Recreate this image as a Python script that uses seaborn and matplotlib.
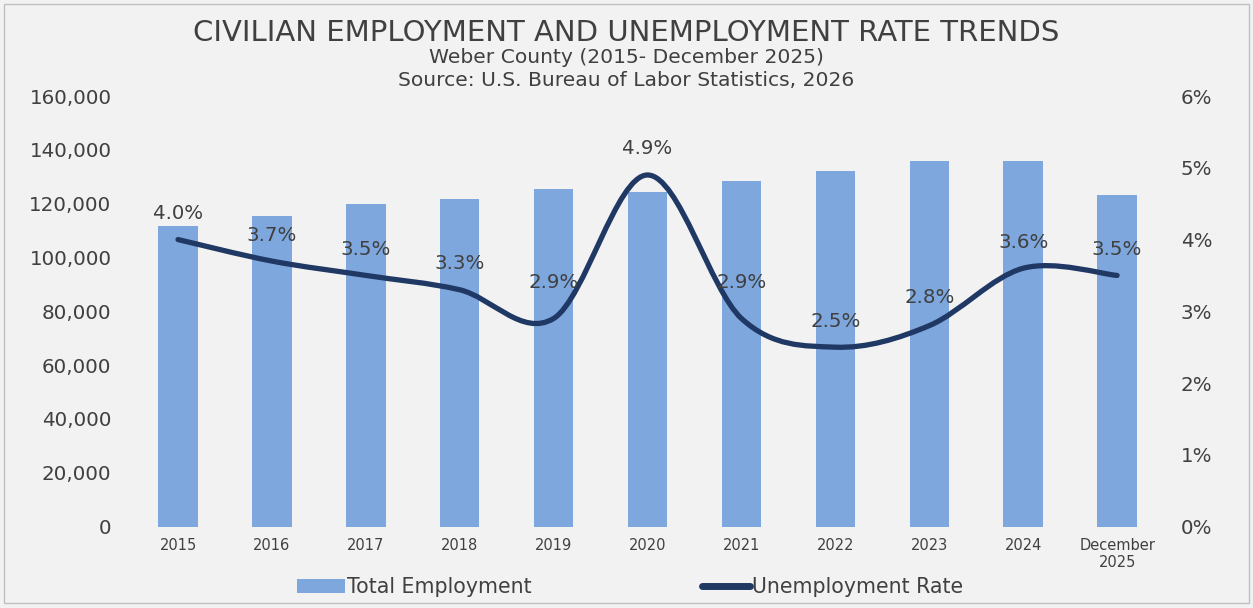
import numpy as np
import pandas as pd
import matplotlib
matplotlib.use("Agg")
import matplotlib.pyplot as plt
from matplotlib.path import Path
from matplotlib.patches import PathPatch, Patch, Rectangle
from matplotlib.lines import Line2D
import seaborn as sns

# ---- data ----
categories = ["2015", "2016", "2017", "2018", "2019", "2020", "2021",
              "2022", "2023", "2024", "December\n2025"]
total_employment = [111700, 115400, 119800, 121600, 125500, 124300,
                    128400, 132000, 135900, 135800, 123400]
unemployment_rate = [4.0, 3.7, 3.5, 3.3, 2.9, 4.9, 2.9, 2.5, 2.8, 3.6, 3.5]
left_ticks = [0, 20000, 40000, 60000, 80000, 100000, 120000, 140000, 160000]
right_ticks = [0, 1, 2, 3, 4, 5, 6]

title = "CIVILIAN EMPLOYMENT AND UNEMPLOYMENT RATE TRENDS"
subtitle1 = "Weber County (2015- December 2025)"
subtitle2 = "Source: U.S. Bureau of Labor Statistics, 2026"

# ---- style ----
BG = "#F2F2F2"
BAR = "#7EA7DD"
LINE = "#1F3864"
TXT = "#404040"

sns.set_theme(style="white")
plt.rcParams["font.family"] = ["DejaVu Sans"]

fig = plt.figure(figsize=(12.53, 6.08), dpi=100, facecolor=BG)
ax = fig.add_axes([0.1046, 0.134, 0.8244, 0.708])
ax.set_facecolor(BG)

df = pd.DataFrame({"cat": categories, "emp": total_employment})
sns.barplot(data=df, x="cat", y="emp", color=BAR, saturation=1,
            width=0.42, linewidth=0, edgecolor="none", ax=ax, zorder=2)
ax.set_ylim(0, 160000)
ax.set_yticks(left_ticks)
ax.set_yticklabels([f"{v:,}" for v in left_ticks])
ax.set_xlabel("")
ax.set_ylabel("")
ax.set_xlim(-0.5, len(categories) - 0.5)
ax.tick_params(axis="y", length=0, pad=14, labelsize=14.3, labelcolor=TXT)
ax.tick_params(axis="x", length=0, pad=8, labelsize=10.5, labelcolor=TXT)
for s in ax.spines.values():
    s.set_visible(False)
ax.grid(False)

ax2 = ax.twinx()
ax2.set_ylim(0, 6)
ax2.set_yticks(right_ticks)
ax2.set_yticklabels([f"{v}%" for v in right_ticks])
ax2.tick_params(axis="y", length=0, pad=12, labelsize=14.3, labelcolor=TXT)
for s in ax2.spines.values():
    s.set_visible(False)
ax2.grid(False)

# smoothed line (Excel-style Catmull-Rom bezier through the data points)
xs = np.arange(len(unemployment_rate), dtype=float)
ys = np.asarray(unemployment_rate, dtype=float)
n = len(xs)
verts = [(xs[0], ys[0])]
codes = [Path.MOVETO]
for i in range(n - 1):
    p0 = np.array([xs[max(i - 1, 0)], ys[max(i - 1, 0)]])
    p1 = np.array([xs[i], ys[i]])
    p2 = np.array([xs[i + 1], ys[i + 1]])
    p3 = np.array([xs[min(i + 2, n - 1)], ys[min(i + 2, n - 1)]])
    c1 = p1 + (p2 - p0) / 6.0
    c2 = p2 - (p3 - p1) / 6.0
    verts += [tuple(c1), tuple(c2), tuple(p2)]
    codes += [Path.CURVE4] * 3
path = Path(verts, codes)
ax2.add_patch(PathPatch(path, facecolor="none", edgecolor=LINE, lw=3.8,
                        capstyle="round", joinstyle="round", zorder=3))

label_dy = [26, 26, 26, 26, 36, 26, 36, 26, 28, 26, 26]
for i, v in enumerate(unemployment_rate):
    ax2.annotate(f"{v:.1f}%", (i, v), xytext=(0, label_dy[i]),
                 textcoords="offset pixels", ha="center", va="center",
                 fontsize=14.2, color=TXT, zorder=4)

# titles
fig.text(0.5, 0.9457, title, ha="center", va="center", fontsize=21, color=TXT)
fig.text(0.5, 0.906, subtitle1, ha="center", va="center", fontsize=14.6, color=TXT)
fig.text(0.5, 0.868, subtitle2, ha="center", va="center", fontsize=14.6, color=TXT)

# legend
handles = [Patch(facecolor=BAR, edgecolor="none"),
           Line2D([0], [0], color=LINE, lw=5, solid_capstyle="round")]
fig.legend(handles, ["Total Employment", "Unemployment Rate"],
           loc="center", bbox_to_anchor=(0.503, 0.034), ncol=2, frameon=False,
           fontsize=14.8, labelcolor=TXT, handlelength=2.3, handleheight=0.7,
           handletextpad=0.12, columnspacing=8.3)

# outer border
fig.patches.append(Rectangle((0.003, 0.008), 0.994, 0.985, transform=fig.transFigure,
                             fill=False, edgecolor="#BFBFBF", lw=1.0))

fig.savefig("out.png", dpi=100, facecolor=BG)
